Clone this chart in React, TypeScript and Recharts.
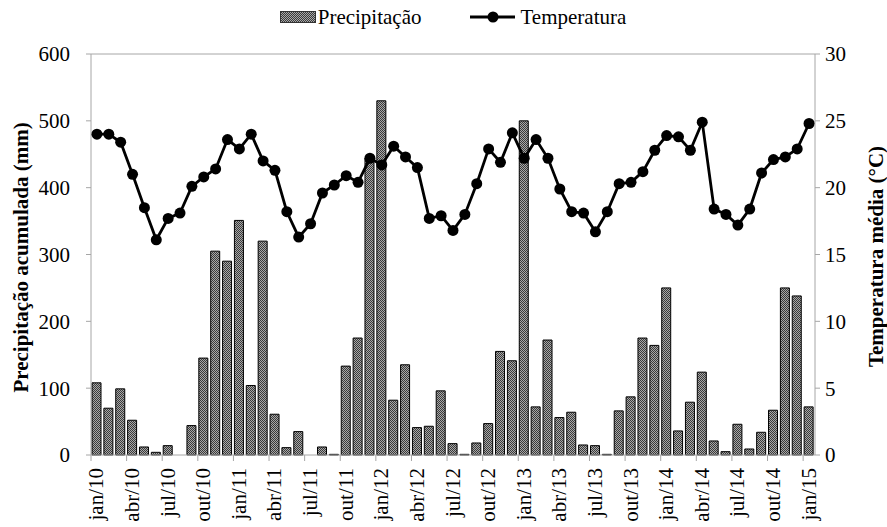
import React from "react";
import {
  ComposedChart,
  Bar,
  Line,
  XAxis,
  YAxis,
  Legend,
  ReferenceLine,
} from "recharts";

const MONTHS: string[] = [
  "jan/10", "fev/10", "mar/10", "abr/10", "mai/10", "jun/10", "jul/10", "ago/10", "set/10", "out/10", "nov/10", "dez/10",
  "jan/11", "fev/11", "mar/11", "abr/11", "mai/11", "jun/11", "jul/11", "ago/11", "set/11", "out/11", "nov/11", "dez/11",
  "jan/12", "fev/12", "mar/12", "abr/12", "mai/12", "jun/12", "jul/12", "ago/12", "set/12", "out/12", "nov/12", "dez/12",
  "jan/13", "fev/13", "mar/13", "abr/13", "mai/13", "jun/13", "jul/13", "ago/13", "set/13", "out/13", "nov/13", "dez/13",
  "jan/14", "fev/14", "mar/14", "abr/14", "mai/14", "jun/14", "jul/14", "ago/14", "set/14", "out/14", "nov/14", "dez/14",
  "jan/15",
];

const PRECIPITACAO: number[] = [
  108, 70, 99, 52, 12, 4, 14, 0, 44, 145, 305, 290,
  351, 104, 320, 61, 11, 35, 0, 12, 1, 133, 175, 444,
  530, 82, 135, 41, 43, 96, 17, 1, 18, 47, 155, 141,
  500, 72, 172, 56, 64, 15, 14, 1, 66, 87, 175, 164,
  250, 36, 79, 124, 21, 5, 46, 9, 34, 67, 250, 238,
  72,
];

const TEMPERATURA: number[] = [
  24.0, 24.0, 23.4, 21.0, 18.5, 16.1, 17.7, 18.1, 20.1, 20.8, 21.4, 23.6,
  22.9, 24.0, 22.0, 21.3, 18.2, 16.3, 17.3, 19.6, 20.2, 20.9, 20.4, 22.2,
  21.7, 23.1, 22.3, 21.5, 17.7, 17.9, 16.8, 18.0, 20.3, 22.9, 21.9, 24.1,
  22.2, 23.6, 22.2, 19.9, 18.2, 18.1, 16.7, 18.2, 20.3, 20.4, 21.2, 22.8,
  23.9, 23.8, 22.8, 24.9, 18.4, 18.0, 17.2, 18.4, 21.1, 22.1, 22.3, 22.9,
  24.8,
];

const LEFT_TICKS: number[] = [0, 100, 200, 300, 400, 500, 600];
const RIGHT_TICKS: number[] = [0, 5, 10, 15, 20, 25, 30];

const data = MONTHS.map((m, i) => ({
  mes: m,
  precipitacao: PRECIPITACAO[i],
  temperatura: TEMPERATURA[i],
}));

const FONT = "'Liberation Serif', 'Times New Roman', serif";
const AXIS_COLOR = "#a6a6a6";
const FONT_SIZE = 21;

const XTick = (props: any) => {
  const { x, y, payload, width } = props;
  const band = (width || 724) / MONTHS.length;
  const bx = x - band / 2;
  return (
    <g>
      <line x1={bx} y1={y} x2={bx} y2={y + 6} stroke={AXIS_COLOR} strokeWidth={1} />
      <text
        transform={`translate(${x + 6.5},${y + 13}) rotate(-90)`}
        textAnchor="end"
        style={{ fontFamily: FONT, fontSize: FONT_SIZE }}
        fill="#000"
      >
        {payload.value}
      </text>
    </g>
  );
};

const leftTitle = (props: any) => {
  const vb = props.viewBox || { x: 0, y: 54, width: 91, height: 401 };
  return (
    <text
      transform={`translate(${vb.x + 28},${vb.y + vb.height / 2 + 3}) rotate(-90)`}
      textAnchor="middle"
      style={{ fontFamily: FONT, fontSize: FONT_SIZE, fontWeight: "bold" }}
      fill="#000"
    >
      Precipitação acumulada (mm)
    </text>
  );
};

const rightTitle = (props: any) => {
  const vb = props.viewBox || { x: 815, y: 54, width: 72, height: 401 };
  return (
    <text
      transform={`translate(${vb.x + 68},${vb.y + vb.height / 2 + 2}) rotate(-90)`}
      textAnchor="middle"
      style={{ fontFamily: FONT, fontSize: FONT_SIZE, fontWeight: "bold" }}
      fill="#000"
    >
      Temperatura média (°C)
    </text>
  );
};

const LegendContent = () => (
  <div
    style={{
      display: "flex",
      justifyContent: "center",
      alignItems: "center",
      fontFamily: FONT,
      fontSize: FONT_SIZE,
      color: "#000",
      lineHeight: "24px",
    }}
  >
    <svg width={36} height={12} style={{ display: "block" }}>
      <rect x={0.5} y={0.5} width={35} height={11} fill="url(#hatchPattern)" stroke="#333" strokeWidth={1} />
    </svg>
    <span style={{ marginLeft: 2 }}>Precipitação</span>
    <svg width={45} height={12} style={{ display: "block", marginLeft: 49 }}>
      <line x1={0} y1={6} x2={45} y2={6} stroke="#000" strokeWidth={2.8} />
      <circle cx={23} cy={6} r={5.5} fill="#000" />
    </svg>
    <span style={{ marginLeft: 5 }}>Temperatura</span>
  </div>
);

export default function App() {
  return (
    <div style={{ position: "absolute", left: 0, top: 0, width: 887, height: 527, background: "#fff" }}>
      <ComposedChart
        width={887}
        height={527}
        data={data}
        margin={{ top: 54, right: 0, bottom: 0, left: 0 }}
        barCategoryGap={0}
        barGap={0}
        style={{ fontFamily: FONT }}
      >
        <defs>
          <pattern id="hatchPattern" x={0} y={0} width={2} height={2} patternUnits="userSpaceOnUse">
            <rect x={0} y={0} width={2} height={2} fill="#a8a8a8" />
            <rect x={0} y={0} width={1} height={1} fill="#3a3a3a" />
            <rect x={1} y={1} width={1} height={1} fill="#3a3a3a" />
          </pattern>
        </defs>
        <Legend
          layout="horizontal"
          verticalAlign="middle"
          align="center"
          content={<LegendContent />}
          wrapperStyle={{ top: 5, left: 91, width: 724, right: "auto", bottom: "auto" }}
        />
        <XAxis
          dataKey="mes"
          xAxisId="x"
          interval={2}
          height={72}
          tickLine={false}
          tickSize={0}
          tickMargin={0}
          axisLine={{ stroke: AXIS_COLOR, strokeWidth: 1 }}
          tick={<XTick />}
        />
        <YAxis
          yAxisId="left"
          orientation="left"
          width={91}
          domain={[0, 600]}
          ticks={LEFT_TICKS}
          interval={0}
          tickSize={5}
          tickMargin={16}
          axisLine={{ stroke: AXIS_COLOR, strokeWidth: 1 }}
          tickLine={{ stroke: AXIS_COLOR, strokeWidth: 1 }}
          tick={{ fontFamily: FONT, fontSize: FONT_SIZE, fill: "#000" }}
          label={leftTitle}
        />
        <YAxis
          yAxisId="right"
          orientation="right"
          width={72}
          domain={[0, 30]}
          ticks={RIGHT_TICKS}
          interval={0}
          tickSize={5}
          tickMargin={5}
          axisLine={{ stroke: AXIS_COLOR, strokeWidth: 1 }}
          tickLine={{ stroke: AXIS_COLOR, strokeWidth: 1 }}
          tick={{ fontFamily: FONT, fontSize: FONT_SIZE, fill: "#000", textAnchor: "start" }}
          label={rightTitle}
        />
        <ReferenceLine yAxisId="left" xAxisId="x" y={600} stroke={AXIS_COLOR} strokeWidth={1} ifOverflow="extendDomain" />
        <Bar
          dataKey="precipitacao"
          name="Precipitação"
          xAxisId="x"
          yAxisId="left"
          barSize={9}
          fill="url(#hatchPattern)"
          stroke="#000"
          strokeWidth={1}
          isAnimationActive={false}
        />
        <Line
          dataKey="temperatura"
          name="Temperatura"
          xAxisId="x"
          yAxisId="right"
          type="linear"
          stroke="#000"
          strokeWidth={2.8}
          dot={{ r: 5.5, fill: "#000", stroke: "#000", strokeWidth: 0 }}
          isAnimationActive={false}
        />
      </ComposedChart>
    </div>
  );
}
